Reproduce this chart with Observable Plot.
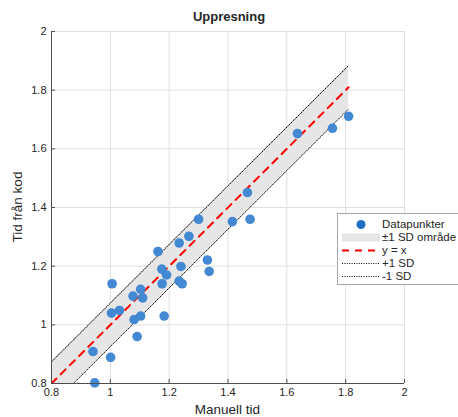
<!DOCTYPE html>
<html><head><meta charset="utf-8">
<script src="https://cdn.jsdelivr.net/npm/d3@7"></script>
<script src="https://cdn.jsdelivr.net/npm/@observablehq/plot@0.6"></script>
<style>
body{margin:0;background:#fff;font-family:Arial,"Liberation Sans",sans-serif;}
#wrap{position:relative;width:458px;height:417px;overflow:hidden;background:#fff;}
#wrap > svg{position:absolute;left:0;top:0;}
.title{position:absolute;left:0;width:458px;top:9px;text-align:center;font-weight:bold;font-size:13px;color:#262626;}
.xlab{position:absolute;left:51px;width:353px;top:402px;text-align:center;font-size:13.5px;color:#262626;}
.ylab{position:absolute;left:17px;top:207px;transform:translate(-50%,-50%) rotate(-90deg);font-size:13.5px;color:#262626;white-space:nowrap;}
.legend{position:absolute;left:337px;top:213px;width:140px;height:72px;border:1px solid #a6a6a6;background:#fff;box-sizing:border-box;}
.row{position:absolute;left:3px;height:13px;display:flex;align-items:center;font-size:11.5px;color:#262626;white-space:nowrap;}
#wrap .row svg{position:static;margin-right:1px;flex:none;}
</style></head><body><div id="wrap"></div>
<script>
const manuell = [0.947,0.941,1.001,1.004,1.031,1.006,1.081,1.103,1.091,1.077,1.103,1.110,1.183,1.162,1.175,1.191,1.176,1.234,1.244,1.240,1.234,1.267,1.300,1.330,1.336,1.415,1.466,1.475,1.636,1.755,1.810];
const kod     = [0.802,0.909,0.889,1.040,1.049,1.140,1.018,1.030,0.960,1.098,1.121,1.092,1.030,1.250,1.190,1.170,1.140,1.149,1.140,1.199,1.279,1.302,1.360,1.221,1.182,1.352,1.451,1.360,1.652,1.670,1.711];
const sd = 0.074;
const ticks = [0.8,1,1.2,1.4,1.6,1.8,2];
const tickLabels = ["0.8","1","1.2","1.4","1.6","1.8","2"];
const legendLabels = ["Datapunkter","±1 SD område","y = x","+1 SD","-1 SD"];

const points = manuell.map((x,i)=>({x, y:kod[i]}));
const lineX = [ticks[0], d3.max(manuell)];
const fmt = d => tickLabels[ticks.indexOf(d)];

const plot = Plot.plot({
  width:458, height:417,
  marginLeft:51, marginRight:54, marginTop:31, marginBottom:34,
  style:{fontFamily:"Arial, 'Liberation Sans', sans-serif", fontSize:"11px", color:"#262626", background:"transparent"},
  x:{domain:[ticks[0], ticks[ticks.length-1]]},
  y:{domain:[ticks[0], ticks[ticks.length-1]]},
  marks:[
    Plot.gridX(ticks,{stroke:"#dfdfdf", strokeOpacity:1}),
    Plot.gridY(ticks,{stroke:"#dfdfdf", strokeOpacity:1}),
    Plot.areaY(lineX,{x:d=>d, y1:d=>d-sd, y2:d=>d+sd, fill:"#e6e6e6", clip:true}),
    Plot.lineY(lineX,{x:d=>d, y:d=>d+sd, stroke:"#000", strokeWidth:1, strokeDasharray:"1,1.4", clip:true}),
    Plot.lineY(lineX,{x:d=>d, y:d=>d-sd, stroke:"#000", strokeWidth:1, strokeDasharray:"1,1.4", clip:true}),
    Plot.lineY(lineX,{x:d=>d, y:d=>d, stroke:"#ff0000", strokeWidth:2, strokeDasharray:"7,6", clip:true}),
    Plot.dot(points,{x:"x", y:"y", r:4.8, fill:"#4288d2", stroke:"none"}),
    Plot.ruleX([ticks[0]],{stroke:"#4d4d4d"}),
    Plot.ruleY([ticks[0]],{stroke:"#4d4d4d"}),
    Plot.axisX({ticks, tickFormat:fmt, tickSize:-4, tickPadding:9, label:null, stroke:"#4d4d4d"}),
    Plot.axisY({ticks, tickFormat:fmt, tickSize:-4, tickPadding:9, label:null, stroke:"#4d4d4d"})
  ]
});
const wrap = document.getElementById("wrap");
wrap.appendChild(plot);

const t = document.createElement("div"); t.className="title"; t.textContent="Uppresning"; wrap.appendChild(t);
const xl = document.createElement("div"); xl.className="xlab"; xl.textContent="Manuell tid"; wrap.appendChild(xl);
const yl = document.createElement("div"); yl.className="ylab"; yl.textContent="Tid från kod"; wrap.appendChild(yl);

const lg = document.createElement("div"); lg.className="legend"; wrap.appendChild(lg);
const swatches = [
  `<circle cx="20" cy="6.5" r="4.5" fill="#1f70c4"/>`,
  `<rect x="1" y="2.5" width="38" height="8" fill="#e6e6e6"/>`,
  `<line x1="1" y1="6.5" x2="39" y2="6.5" stroke="#ff0000" stroke-width="2" stroke-dasharray="7,6"/>`,
  `<line x1="1" y1="6.5" x2="39" y2="6.5" stroke="#000" stroke-width="1" stroke-dasharray="1,1.4"/>`,
  `<line x1="1" y1="6.5" x2="39" y2="6.5" stroke="#000" stroke-width="1" stroke-dasharray="1,1.4"/>`
];
legendLabels.forEach((lab,i)=>{
  const r = document.createElement("div"); r.className="row"; r.style.top=(3.5+i*13.1)+"px";
  r.innerHTML = `<svg width="40" height="13">${swatches[i]}</svg><span>${lab}</span>`;
  lg.appendChild(r);
});
</script>
</body></html>
